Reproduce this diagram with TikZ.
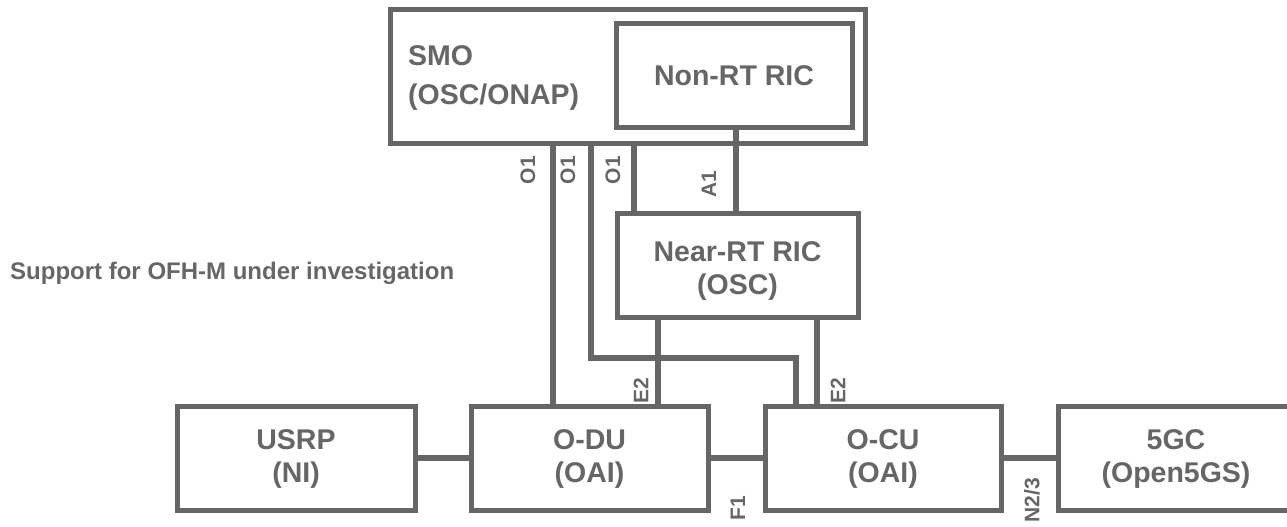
\documentclass[tikz,border=0pt]{standalone}
\usepackage{fontspec}
\setmainfont{Liberation Sans}
\definecolor{g}{HTML}{666666}
\begin{document}
\begin{tikzpicture}[x=1pt,y=-1pt,
  box/.style={draw=g, line width=5pt, inner sep=0pt, fill=white},
  conn/.style={draw=g, line width=6pt},
  big/.style={text=g, font=\fontsize{28.5}{33}\selectfont\bfseries, align=center},
  lbl/.style={text=g, font=\fontsize{21}{23}\selectfont\bfseries, rotate=90, inner sep=0pt},
  note/.style={text=g, font=\fontsize{24}{28}\selectfont\bfseries, inner sep=0pt}]
\useasboundingbox (0,0) rectangle (1287,527);
\clip (0,0) rectangle (1287,527);
% boxes
\node[box, minimum width=475pt, minimum height=133pt] (smo) at (627.5,76.5) {};
\node[box, minimum width=236pt, minimum height=103pt] (nonrt) at (734,75.5) {};
\node[box, minimum width=241pt, minimum height=104pt] (nearrt) at (737.5,265) {};
\node[box, minimum width=238pt, minimum height=104pt] (usrp) at (296,458) {};
\node[box, minimum width=237pt, minimum height=104pt] (odu) at (589.5,458) {};
\node[box, minimum width=236pt, minimum height=104pt] (ocu) at (883,458) {};
\node[box, minimum width=238pt, minimum height=104pt] (core) at (1177,458) {};
% texts
\node[big, align=left, anchor=west, inner sep=0pt, font=\fontsize{28.5}{39}\selectfont\bfseries] (smotxt) at (408,78) {SMO\\(OSC/ONAP)};
\node[big] (nonrttxt) at (nonrt) {Non-RT RIC};
\node[big] (nearrttxt) at (737.5,271) {Near-RT RIC\\(OSC)};
\node[big] (usrptxt) at (296,459) {USRP\\(NI)};
\node[big] (odutxt) at (589.5,459) {O-DU\\(OAI)};
\node[big] (ocutxt) at (883,459) {O-CU\\(OAI)};
\node[big] (coretxt) at (1176,459) {5GC\\(Open5GS)};
\node[note, anchor=west] (support) at (10,273) {Support for OFH-M under investigation};
% connectors
\draw[conn] (usrp.east) -- (odu.west);
\draw[conn] (odu.east) -- (ocu.west);
\draw[conn] (ocu.east) -- (core.west);
\draw[conn] (553,0 |- smo.south) -- (553,0 |- odu.north);
\draw[conn] (591,0 |- smo.south) -- (591,358) -- (796,358) -- (796,0 |- ocu.north);
\draw[conn] (634,0 |- smo.south) -- (634,0 |- nearrt.north);
\draw[conn] (736,0 |- nonrt.south) -- (736,0 |- nearrt.north);
\draw[conn] (658,0 |- nearrt.south) -- (658,0 |- odu.north);
\draw[conn] (817,0 |- nearrt.south) -- (817,0 |- ocu.north);
% interface labels
\node[lbl] (o1a) at (528,170) {O1};
\node[lbl] (o1b) at (568,170) {O1};
\node[lbl] (o1c) at (613,170) {O1};
\node[lbl] (a1) at (709,184) {A1};
\node[lbl] (e2a) at (641,391) {E2};
\node[lbl] (e2b) at (838,391) {E2};
\node[lbl] (f1) at (738,508) {F1};
\node[lbl] (n23) at (1032,500) {N2/3};
\end{tikzpicture}
\end{document}
